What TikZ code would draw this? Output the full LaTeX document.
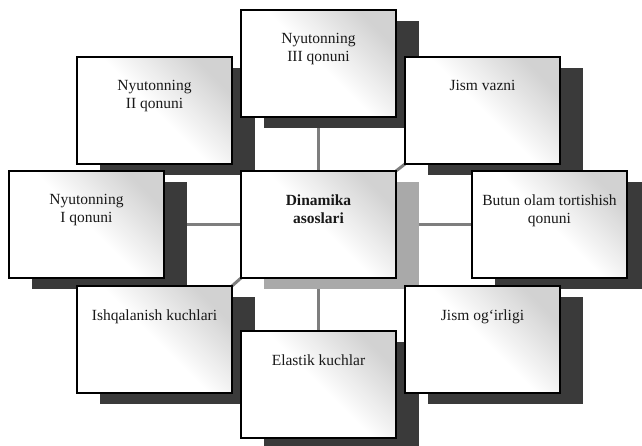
\documentclass[tikz,border=0pt]{standalone}
\usepackage{fontspec}
\setmainfont{Liberation Serif}
\usetikzlibrary{shadows}
\newcommand\bw{155pt}
\newcommand\bh{107pt}

\begin{document}
\begin{tikzpicture}[
      x=1pt, y=-1pt,
      box/.style = {
        draw=black,
        line width=1.3pt,
        minimum width = \bw,
        minimum height = \bh,
        inner sep=0pt,
        top color=gray!35,
        bottom color=white,
        middle color=white,
        shading angle=-45,
        general shadow={fill=shadowdark, shadow xshift=23pt, shadow yshift=-11pt},
      },
      midbox/.style = {
        box,
        general shadow={fill=shadowlight, shadow xshift=23pt, shadow yshift=-11pt},
      },
      txt/.style = {
        anchor=north,
        align=center,
        inner sep=0pt,
        text=black!90,
        font=\fontsize{15.5}{18}\selectfont,
      },
      link/.style = {
        draw=linkgray,
        line width=3pt,
      },
    ]
      \definecolor{shadowdark}{HTML}{3A3A3A}
      \definecolor{shadowlight}{HTML}{A9A9A9}
      \definecolor{linkgray}{HTML}{7E7E7E}
      \clip (0,0) rectangle (642,446);
      \fill[white] (0,0) rectangle (642,446);

      % connectors go under everything
      \coordinate (pdin) at (318.5, 224.5);
      \coordinate (pn1) at (86.5, 224.5);
      \coordinate (pn2) at (154.5, 110.5);
      \coordinate (pn3) at (318.5, 63.5);
      \coordinate (pvazn) at (482.5, 110.5);
      \coordinate (ptort) at (549.5, 224.5);
      \coordinate (pishq) at (154.5, 339.5);
      \coordinate (pelast) at (318.5, 384.5);
      \coordinate (pogir) at (482.5, 339.5);
      \draw[link] (pdin) -- (pn1);
      \draw[link] (pdin) -- (pn3);
      \draw[link] (pdin) -- (ptort);
      \draw[link] (pdin) -- (pelast);
      \draw[link] ([shift={(-77.5,-53.5)}]pdin) -- ([shift={(77.5,53.5)}]pn2);
      \draw[link] ([shift={(77.5,-53.5)}]pdin) -- ([shift={(-77.5,53.5)}]pvazn);
      \draw[link] ([shift={(-77.5,53.5)}]pdin) -- ([shift={(77.5,-53.5)}]pishq);
      \draw[link] ([shift={(77.5,53.5)}]pdin) -- ([shift={(-77.5,-53.5)}]pogir);

      % boxes, back to front
      \node[box] (n2) at (pn2) {};
      \node[box] (n3) at (pn3) {};
      \node[box] (vazn) at (pvazn) {};
      \node[midbox] (din) at (pdin) {};
      \node[box] (n1) at (pn1) {};
      \node[box] (tort) at (ptort) {};
      \node[box] (ishq) at (pishq) {};
      \node[box] (elast) at (pelast) {};
      \node[box] (ogir) at (pogir) {};

      \node[txt] (t-n2) at ([yshift=-24pt]n2.north) {Nyutonning\\II qonuni};
      \node[txt] (t-n3) at ([yshift=-24pt]n3.north) {Nyutonning\\III qonuni};
      \node[txt] (t-vazn) at ([yshift=-24pt]vazn.north) {Jism vazni};
      \node[txt, font=\fontsize{15.5}{18}\selectfont\bfseries] (t-din) at ([yshift=-24pt]din.north) {Dinamika\\asoslari};
      \node[txt] (t-n1) at ([yshift=-24pt]n1.north) {Nyutonning\\I qonuni};
      \node[txt] (t-tort) at ([yshift=-24pt]tort.north) {Butun olam tortishish\\qonuni};
      \node[txt] (t-ishq) at ([yshift=-24pt]ishq.north) {Ishqalanish kuchlari};
      \node[txt] (t-elast) at ([yshift=-24pt]elast.north) {Elastik kuchlar};
      \node[txt] (t-ogir) at ([yshift=-24pt]ogir.north) {Jism og`irligi};

    \end{tikzpicture}
\end{document}
